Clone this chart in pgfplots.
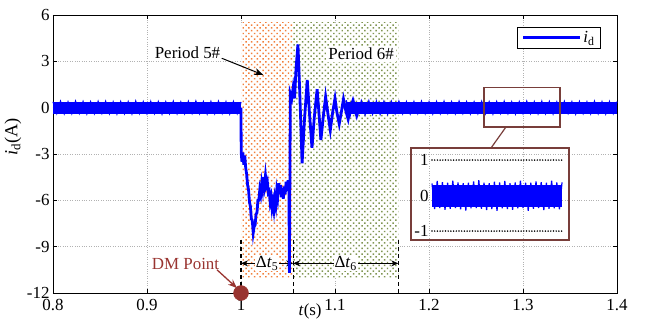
\documentclass[border=0pt]{standalone}
\usepackage{fontspec}
\setmainfont{Liberation Serif}
\usepackage{pgfplots}
\pgfplotsset{compat=1.18}
\usetikzlibrary{patterns.meta,arrows.meta}
\definecolor{dmred}{RGB}{153,52,48}
\definecolor{boxbrown}{RGB}{120,62,58}
\definecolor{dotorange}{RGB}{242,128,60}
\definecolor{dotgreen}{RGB}{128,150,82}
\newcommand{\fs}{\fontsize{17}{20}\selectfont}
\begin{document}
\begin{tikzpicture}
\begin{axis}[name=main, scale only axis, width=564bp, height=278bp,
  xmin=0.8, xmax=1.4, ymin=-12, ymax=6,
  xtick={0.8,0.9,1,1.1,1.2,1.3,1.4},
  ytick={-12,-9,-6,-3,0,3,6},
  tick align=inside, major tick length=4bp,
  grid=major, grid style={gray!60, dotted, line width=0.6pt},
  axis line style={line width=0.6pt},
  tick style={black, line width=0.6pt},
  /pgf/number format/assume math mode=true,
  ticklabel style={font=\fs},
  xticklabel style={yshift=-3bp},
  xlabel={\textit{t}(s)}, ylabel={\textit{i}\textsubscript{d}(A)},
  xlabel style={at={(rel axis cs:0.456,-0.0396)}, anchor=north, inner sep=0pt, font=\fs},
  ylabel style={at={(rel axis cs:-0.071,0.561)}, anchor=center, inner sep=0pt, font=\fontsize{18.5}{21}\selectfont},
  legend style={at={(rel axis cs:0.9716,0.9568)}, anchor=north east, draw=black, line width=0.8pt, font=\fs, inner xsep=4bp, inner ysep=2bp},
  legend image code/.code={\draw[#1] (0bp,0bp) -- (57bp,0bp);},
  clip=false]

% shaded periods
\addplot[draw=none, fill=white, forget plot] coordinates {(1.0,-11) (1.0555,-11) (1.0555,5.5) (1.0,5.5)} -- cycle;
\addplot[draw=none, pattern={Dots[distance=4bp, angle=45, radius=1.05bp]}, pattern color=dotorange, forget plot] coordinates {(1.0,-11) (1.0555,-11) (1.0555,5.5) (1.0,5.5)} -- cycle;
\addplot[draw=none, fill=white, forget plot] coordinates {(1.0555,-11) (1.1673,-11) (1.1673,5.5) (1.0555,5.5)} -- cycle;
\addplot[draw=none, pattern={Dots[distance=4bp, angle=45, radius=1.05bp]}, pattern color=dotgreen, forget plot] coordinates {(1.0555,-11) (1.1673,-11) (1.1673,5.5) (1.0555,5.5)} -- cycle;

% noise band (steady state)
\addplot[blue, line width=12bp, forget plot] coordinates {(0.8,0) (1.0,0)};
\addplot[blue, line width=12bp, forget plot] coordinates {(1.112,0) (1.4,0)};
\addplot[blue, line width=1.2pt, forget plot] coordinates {
(0.800,0.38)(0.804,-0.37)(0.808,0.41)(0.812,-0.39)(0.816,0.37)(0.820,-0.38)(0.824,0.42)(0.828,-0.37)(0.832,0.39)(0.836,-0.40)
(0.840,0.38)(0.844,-0.38)(0.848,0.40)(0.852,-0.37)(0.856,0.41)(0.860,-0.39)(0.864,0.37)(0.868,-0.41)(0.872,0.39)(0.876,-0.38)
(0.880,0.38)(0.884,-0.40)(0.888,0.42)(0.892,-0.37)(0.896,0.38)(0.900,-0.39)(0.904,0.40)(0.908,-0.37)(0.912,0.39)(0.916,-0.41)
(0.920,0.37)(0.924,-0.38)(0.928,0.41)(0.932,-0.39)(0.936,0.37)(0.940,-0.38)(0.944,0.40)(0.948,-0.37)(0.952,0.42)(0.956,-0.38)
(0.960,0.38)(0.964,-0.40)(0.968,0.39)(0.972,-0.38)(0.976,0.41)(0.980,-0.37)(0.984,0.38)(0.988,-0.40)(0.992,0.39)(0.996,-0.38)(1.000,0.37)};
\addplot[blue, line width=1.2pt, forget plot] coordinates {
(1.112,0.48)(1.116,-0.55)(1.120,0.46)(1.124,-0.50)(1.128,0.44)(1.132,-0.46)(1.136,0.44)(1.140,-0.42)(1.144,0.42)(1.148,-0.43)(1.152,0.40)(1.156,-0.42)
(1.160,0.40)(1.164,-0.39)(1.168,0.41)(1.172,-0.39)(1.176,0.38)(1.180,-0.40)(1.184,0.39)(1.188,-0.37)(1.192,0.41)(1.196,-0.38)
(1.200,0.37)(1.204,-0.40)(1.208,0.39)(1.212,-0.38)(1.216,0.41)(1.220,-0.37)(1.224,0.38)(1.228,-0.39)(1.232,0.41)(1.236,-0.37)
(1.240,0.38)(1.244,-0.40)(1.248,0.37)(1.252,-0.38)(1.256,0.40)(1.260,-0.39)(1.264,0.38)(1.268,-0.41)(1.272,0.39)(1.276,-0.37)
(1.280,0.41)(1.284,-0.38)(1.288,0.37)(1.292,-0.40)(1.296,0.38)(1.300,-0.38)(1.304,0.41)(1.308,-0.37)(1.312,0.38)(1.316,-0.39)
(1.320,0.41)(1.324,-0.38)(1.328,0.39)(1.332,-0.40)(1.336,0.37)(1.340,-0.38)(1.344,0.40)(1.348,-0.37)(1.352,0.38)(1.356,-0.41)
(1.360,0.39)(1.364,-0.38)(1.368,0.37)(1.372,-0.39)(1.376,0.41)(1.380,-0.38)(1.384,0.38)(1.388,-0.40)(1.392,0.39)(1.396,-0.37)(1.400,0.39)};

% dashed markers and interval arrows
\draw[black, line width=1.3pt, dash pattern=on 4bp off 3bp] (axis cs:1.0,-8.6) -- (axis cs:1.0,-12);
\draw[black, line width=1.3pt, dash pattern=on 4bp off 3bp] (axis cs:1.0555,-8.6) -- (axis cs:1.0555,-12);
\draw[black, line width=1.3pt, dash pattern=on 4bp off 3bp] (axis cs:1.1673,-8.6) -- (axis cs:1.1673,-12);
\draw[<->, >={Stealth[length=7bp,width=6bp]}, line width=1pt] (axis cs:1.0,-10.08) -- (axis cs:1.0555,-10.08)
  node[midway, fill=white, inner sep=1bp, font=\fs] {Δ\textit{t}\textsubscript{5}};
\draw[<->, >={Stealth[length=7bp,width=6bp]}, line width=1pt] (axis cs:1.0555,-10.08) -- (axis cs:1.1673,-10.08)
  node[midway, fill=white, inner sep=1bp, font=\fs] {Δ\textit{t}\textsubscript{6}};

% transient
\addplot[blue, line width=2.8pt] coordinates {
(1.0000,0.0)(1.0002,-2.9)(1.001,-3.5)(1.002,-2.9)(1.003,-3.7)(1.004,-3.1)(1.005,-3.9)(1.006,-4.3)(1.007,-5.0)(1.008,-5.3)
(1.009,-6.1)(1.010,-6.4)(1.011,-7.2)(1.012,-7.3)(1.013,-8.1)(1.014,-7.7)(1.015,-7.6)(1.016,-6.9)(1.017,-6.8)(1.018,-6.0)
(1.019,-6.0)(1.020,-5.3)(1.021,-5.6)(1.022,-4.9)(1.023,-5.3)(1.024,-4.5)(1.025,-5.0)(1.026,-4.4)(1.027,-5.0)(1.028,-4.8)
(1.029,-5.5)(1.030,-5.4)(1.031,-6.1)(1.032,-5.8)(1.033,-6.5)(1.034,-6.1)(1.035,-6.6)(1.036,-5.9)(1.037,-6.3)(1.038,-5.4)
(1.039,-5.8)(1.040,-4.9)(1.041,-5.6)(1.042,-5.0)(1.043,-5.8)(1.044,-5.2)(1.045,-5.9)(1.046,-5.1)(1.047,-5.6)(1.048,-4.8)
(1.049,-5.4)(1.050,-4.7)(1.051,-5.3)(1.0515,-10.7)(1.0525,0.9)(1.054,0.6)(1.0555,1.3)(1.057,0.6)(1.0585,2.5)(1.0606,4.1)
(1.0625,1.0)(1.065,-3.6)(1.0675,-0.8)(1.0705,1.8)(1.073,-0.5)(1.0755,-2.6)(1.078,-0.6)(1.081,1.2)(1.083,-0.4)(1.085,-2.1)
(1.0875,-0.6)(1.090,0.7)(1.0925,-0.4)(1.095,-1.45)(1.0975,-0.3)(1.100,0.6)(1.102,-0.3)(1.1045,-1.05)(1.107,-0.2)(1.109,0.55)
(1.1115,-0.2)(1.114,-0.75)(1.1165,0.0)(1.119,0.45)(1.121,-0.1)(1.123,-0.5)(1.125,0.0)};
\addlegendentry{\textit{i}\textsubscript{d}}

% annotations
\node[font=\fs] at (axis cs:0.9431,3.54) {Period 5\#};
\draw[-{Stealth[length=9bp,width=7bp]}, line width=1pt] (axis cs:0.9795,3.2) -- (axis cs:1.0237,2.12);
\node[font=\fs, fill=white, inner sep=2bp] at (axis cs:1.1277,3.48) {Period 6\#};
\node[font=\fs, text=dmred] at (axis cs:0.941,-10.1) {DM Point};
\draw[-{Stealth[length=9bp,width=7bp]}, line width=1.3pt, dmred] (axis cs:0.9745,-10.5) -- (axis cs:0.9957,-11.68);
\addplot[only marks, mark=*, mark size=7.5bp, color=dmred, forget plot] coordinates {(1.0,-12)};

% zoom box and inset frame
\draw[boxbrown, line width=1.2pt] (axis cs:1.2585,1.3) rectangle (axis cs:1.3394,-1.25);
\draw[boxbrown, line width=1.2pt] (axis cs:1.2819,-1.25) -- (axis cs:1.266,-2.61);
\draw[boxbrown, line width=1.3pt] (axis cs:1.1809,-2.61) rectangle (axis cs:1.349,-8.57);
\coordinate (insetSW) at (axis cs:1.2032,-7.99);
\end{axis}

\begin{axis}[at={(insetSW)}, anchor=south west, scale only axis, width=130bp, height=71bp,
  xmin=0, xmax=1, ymin=-1, ymax=1,
  axis line style={draw=none}, xtick=\empty, ytick={-1,0,1},
  major tick length=0pt, tick style={draw=none},
  /pgf/number format/assume math mode=true,
  yticklabel style={font=\fs}, clip=false]
\addplot[black, line width=1.7pt, line cap=round, dash pattern=on 0bp off 2.7bp] coordinates {(0,1) (1,1)};
\addplot[black, line width=1.7pt, line cap=round, dash pattern=on 0bp off 2.7bp] coordinates {(0,-1) (1,-1)};
\addplot[blue, line width=22bp] coordinates {(0,0) (1,0)};
\addplot[blue, line width=1.2pt] coordinates {
(0.00,0.34)(0.02,-0.38)(0.04,0.41)(0.06,-0.35)(0.08,0.38)(0.10,-0.40)(0.12,0.36)(0.14,-0.37)(0.16,0.42)(0.18,-0.35)
(0.20,0.37)(0.22,-0.39)(0.24,0.35)(0.26,-0.42)(0.28,0.36)(0.30,-0.36)(0.32,0.40)(0.34,-0.35)(0.36,0.43)(0.38,-0.37)
(0.40,0.36)(0.42,-0.41)(0.44,0.35)(0.46,-0.38)(0.48,0.39)(0.50,-0.43)(0.52,0.37)(0.54,-0.36)(0.56,0.41)(0.58,-0.38)
(0.60,0.35)(0.62,-0.40)(0.64,0.37)(0.66,-0.36)(0.68,0.42)(0.70,-0.35)(0.72,0.36)(0.74,-0.43)(0.76,0.36)(0.78,-0.37)
(0.80,0.40)(0.82,-0.35)(0.84,0.38)(0.86,-0.41)(0.88,0.36)(0.90,-0.37)(0.92,0.42)(0.94,-0.36)(0.96,0.37)(0.98,-0.39)(1.00,0.37)};
\end{axis}

\pgfresetboundingbox
\useasboundingbox ([shift={(-53bp,-29bp)}]main.south west) rectangle ([shift={(31bp,15bp)}]main.north east);
\end{tikzpicture}
\end{document}
